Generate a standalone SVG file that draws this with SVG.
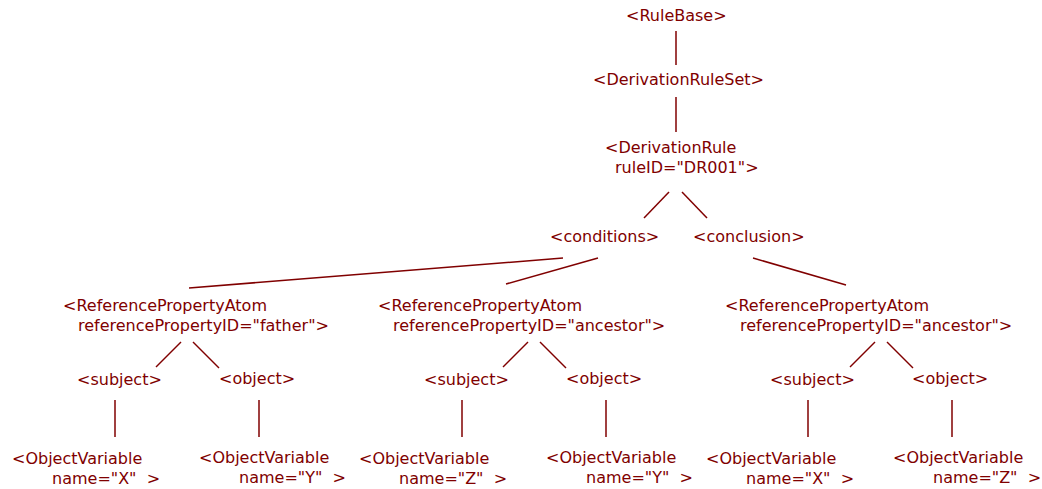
<svg xmlns="http://www.w3.org/2000/svg" width="1042" height="489" viewBox="0 0 1042 489">
  <style>
    text { font-family: "DejaVu Sans", "Noto Sans", sans-serif; font-size: 16px; fill: #800000; white-space: pre; }
    .edge { stroke: #800000; stroke-width: 1.5; fill: none; }
  </style>
  <rect width="1042" height="489" fill="#ffffff"/>

  <g id="connectors">
    <line class="edge" x1="676" y1="31" x2="676" y2="65"/>
    <line class="edge" x1="676" y1="97" x2="676" y2="132"/>
    <line class="edge" x1="669" y1="192" x2="644" y2="218"/>
    <line class="edge" x1="682" y1="192" x2="707" y2="218"/>
    <line class="edge" x1="563" y1="258" x2="189" y2="288"/>
    <line class="edge" x1="598" y1="258" x2="506" y2="284"/>
    <line class="edge" x1="753" y1="258" x2="846" y2="285"/>
    <line class="edge" x1="181" y1="342" x2="156" y2="367"/>
    <line class="edge" x1="193" y1="342" x2="219" y2="368"/>
    <line class="edge" x1="115" y1="400" x2="115" y2="437"/>
    <line class="edge" x1="259" y1="400" x2="259" y2="437"/>
    <line class="edge" x1="528" y1="342" x2="503" y2="367"/>
    <line class="edge" x1="540" y1="342" x2="566" y2="368"/>
    <line class="edge" x1="462" y1="400" x2="462" y2="437"/>
    <line class="edge" x1="606" y1="400" x2="606" y2="437"/>
    <line class="edge" x1="875" y1="342" x2="850" y2="367"/>
    <line class="edge" x1="887" y1="342" x2="913" y2="368"/>
    <line class="edge" x1="808" y1="400" x2="808" y2="437"/>
    <line class="edge" x1="952" y1="400" x2="952" y2="437"/>
  </g>

  <g id="rulebase"><text x="626" y="21">&lt;RuleBase&gt;</text></g>
  <g id="derivationruleset"><text x="593" y="85">&lt;DerivationRuleSet&gt;</text></g>
  <g id="derivationrule">
    <text x="605" y="153">&lt;DerivationRule</text>
    <text x="615" y="173">ruleID="DR001"&gt;</text>
  </g>
  <g id="conditions"><text x="550" y="242">&lt;conditions&gt;</text></g>
  <g id="conclusion"><text x="693" y="242">&lt;conclusion&gt;</text></g>

  <g id="atom-father">
    <text x="63" y="311">&lt;ReferencePropertyAtom</text>
    <text x="78" y="331">referencePropertyID="father"&gt;</text>
  </g>
  <g id="atom-ancestor-1">
    <text x="378" y="311">&lt;ReferencePropertyAtom</text>
    <text x="393" y="331">referencePropertyID="ancestor"&gt;</text>
  </g>
  <g id="atom-ancestor-2">
    <text x="725" y="311">&lt;ReferencePropertyAtom</text>
    <text x="740" y="331">referencePropertyID="ancestor"&gt;</text>
  </g>

  <g id="subject-1"><text x="77" y="385">&lt;subject&gt;</text></g>
  <g id="object-1"><text x="219" y="384">&lt;object&gt;</text></g>
  <g id="subject-2"><text x="424" y="385">&lt;subject&gt;</text></g>
  <g id="object-2"><text x="566" y="384">&lt;object&gt;</text></g>
  <g id="subject-3"><text x="770" y="385">&lt;subject&gt;</text></g>
  <g id="object-3"><text x="912" y="384">&lt;object&gt;</text></g>

  <g id="var-x-1">
    <text x="12" y="464">&lt;ObjectVariable</text>
    <text x="52" y="484">name="X"  &gt;</text>
  </g>
  <g id="var-y-1">
    <text x="199" y="463">&lt;ObjectVariable</text>
    <text x="239" y="483">name="Y"  &gt;</text>
  </g>
  <g id="var-z-1">
    <text x="359" y="464">&lt;ObjectVariable</text>
    <text x="399" y="484">name="Z"  &gt;</text>
  </g>
  <g id="var-y-2">
    <text x="546" y="463">&lt;ObjectVariable</text>
    <text x="586" y="483">name="Y"  &gt;</text>
  </g>
  <g id="var-x-2">
    <text x="706" y="464">&lt;ObjectVariable</text>
    <text x="746" y="484">name="X"  &gt;</text>
  </g>
  <g id="var-z-2">
    <text x="893" y="463">&lt;ObjectVariable</text>
    <text x="933" y="483">name="Z"  &gt;</text>
  </g>
</svg>
